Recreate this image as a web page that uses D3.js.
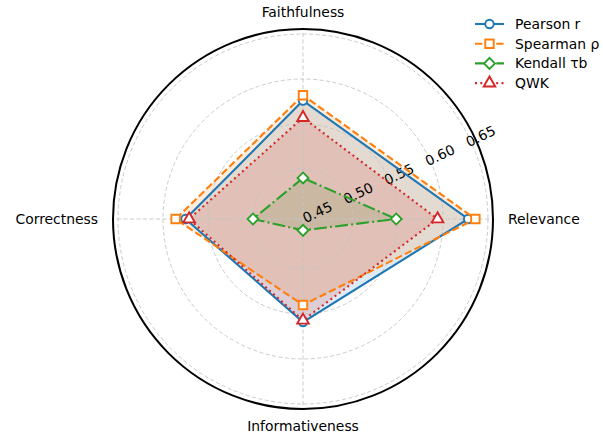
<!DOCTYPE html>
<html>
<head>
<meta charset="utf-8">
<style>
  body { margin: 0; background: #fff; }
  svg text { font-family: "DejaVu Sans", sans-serif; }
</style>
<script src="https://cdn.jsdelivr.net/npm/d3@7"></script>
</head>
<body>
<svg id="chart" width="603" height="435"></svg>
<script>
// categories, counter-clockwise starting from the top
var categories = ["Faithfulness", "Correctness", "Informativeness", "Relevance"];

var pearson  = [0.576, 0.575, 0.559, 0.628];
var spearman = [0.582, 0.586, 0.540, 0.636];
var kendall  = [0.490, 0.500, 0.457, 0.548];
var qwk      = [0.557, 0.571, 0.557, 0.594];

var rTicks = [0.45, 0.50, 0.55, 0.60, 0.65];
var rDomain = [0.4444, 0.6556];

var series = [
  {name: "Pearson r",   values: pearson,  color: "#1f77b4", dash: null,             marker: "circle"},
  {name: "Spearman ρ",  values: spearman, color: "#ff7f0e", dash: "7.4,3.2",        marker: "square"},
  {name: "Kendall τb",  values: kendall,  color: "#2ca02c", dash: "12.8,3.2,2,3.2", marker: "diamond"},
  {name: "QWK",         values: qwk,      color: "#d62728", dash: "2,3.3",          marker: "triangle"}
];

var svg = d3.select("#chart"),
    cx = 303, cy = 219, R = 190;

var r = d3.scaleLinear().domain(rDomain).range([0, R]);

// d3 angle: clockwise from 12 o'clock; categories go counter-clockwise
function ang(i) { return -i * Math.PI / 2; }
function px(i, v) { return [Math.sin(ang(i)) * r(v), -Math.cos(ang(i)) * r(v)]; }

var g = svg.append("g").attr("transform", "translate(" + cx + "," + cy + ")");

var radial = d3.lineRadial()
    .angle(function(d, i) { return ang(i); })
    .radius(function(d) { return r(d); })
    .curve(d3.curveLinearClosed);

// fills
g.selectAll(".area")
  .data(series)
  .enter().append("path")
    .attr("class", "area")
    .attr("d", function(d) { return radial(d.values); })
    .attr("fill", function(d) { return d.color; })
    .attr("fill-opacity", 0.15)
    .attr("stroke", "none");

// grid circles
var grid = g.append("g")
    .attr("fill", "none")
    .attr("stroke", "#c4c4c4")
    .attr("stroke-width", 0.9)
    .attr("stroke-dasharray", "4,2.5");

grid.selectAll("circle")
  .data(rTicks)
  .enter().append("circle")
    .attr("r", function(d) { return r(d); });

// spokes
grid.selectAll("line")
  .data(categories)
  .enter().append("line")
    .attr("x1", 0).attr("y1", 0)
    .attr("x2", function(d, i) { return Math.sin(ang(i)) * R; })
    .attr("y2", function(d, i) { return -Math.cos(ang(i)) * R; });

// outer circle
g.append("circle")
    .attr("r", R)
    .attr("fill", "none")
    .attr("stroke", "#000")
    .attr("stroke-width", 2);

// radial tick labels
var la = 25 * Math.PI / 180;
g.selectAll(".rlabel")
  .data(rTicks)
  .enter().append("text")
    .attr("class", "rlabel")
    .attr("transform", function(d) {
      var rr = r(d) + 11;
      return "translate(" + (Math.cos(la) * rr) + "," + (-Math.sin(la) * rr) + ") rotate(-25)";
    })
    .attr("text-anchor", "middle")
    .attr("dy", "0.35em")
    .attr("font-size", "13.9px")
    .attr("fill", "#000")
    .text(function(d) { return d3.format(".2f")(d); });

// category labels
g.selectAll(".clabel")
  .data(categories)
  .enter().append("text")
    .attr("class", "clabel")
    .attr("x", function(d, i) { return Math.sin(ang(i)) * (R + 15); })
    .attr("y", function(d, i) { return -Math.cos(ang(i)) * (R + 17); })
    .attr("dy", "0.35em")
    .attr("text-anchor", function(d, i) {
      var s = Math.round(Math.sin(ang(i)) * 100);
      return s > 0 ? "start" : (s < 0 ? "end" : "middle");
    })
    .attr("font-size", "13.9px")
    .attr("fill", "#000")
    .text(function(d) { return d; });

function symbolFor(m) {
  if (m === "circle") return d3.symbol().type(d3.symbolCircle).size(56);
  if (m === "square") return d3.symbol().type(d3.symbolSquare).size(72);
  if (m === "diamond") return d3.symbol().type(d3.symbolSquare).size(60);
  return d3.symbol().type(d3.symbolTriangle).size(58);
}

// lines + markers
series.forEach(function(s) {
  g.append("path")
    .attr("d", radial(s.values))
    .attr("fill", "none")
    .attr("stroke", s.color)
    .attr("stroke-width", 2.1)
    .attr("stroke-dasharray", s.dash);

  g.selectAll(null)
    .data(s.values)
    .enter().append("path")
      .attr("d", symbolFor(s.marker)())
      .attr("transform", function(d, i) {
        var p = px(i, d);
        return "translate(" + p[0] + "," + p[1] + ")" + (s.marker === "diamond" ? " rotate(45)" : "");
      })
      .attr("fill", "#fff")
      .attr("stroke", s.color)
      .attr("stroke-width", 1.9);
});

// legend
var legend = svg.append("g")
  .selectAll("g")
  .data(series)
  .enter().append("g")
    .attr("transform", function(d, i) { return "translate(475," + (24 + i * 19.7) + ")"; });

legend.append("line")
    .attr("x1", 0).attr("x2", 29)
    .attr("stroke", function(d) { return d.color; })
    .attr("stroke-width", 2.1)
    .attr("stroke-dasharray", function(d) { return d.dash; });

legend.append("path")
    .attr("d", function(d) { return symbolFor(d.marker)(); })
    .attr("transform", function(d) { return "translate(14.5,0)" + (d.marker === "diamond" ? " rotate(45)" : ""); })
    .attr("fill", "#fff")
    .attr("stroke", function(d) { return d.color; })
    .attr("stroke-width", 1.9);

legend.append("text")
    .attr("x", 40)
    .attr("dy", "0.35em")
    .attr("font-size", "13.9px")
    .attr("fill", "#000")
    .text(function(d) { return d.name; });
</script>
</body>
</html>
